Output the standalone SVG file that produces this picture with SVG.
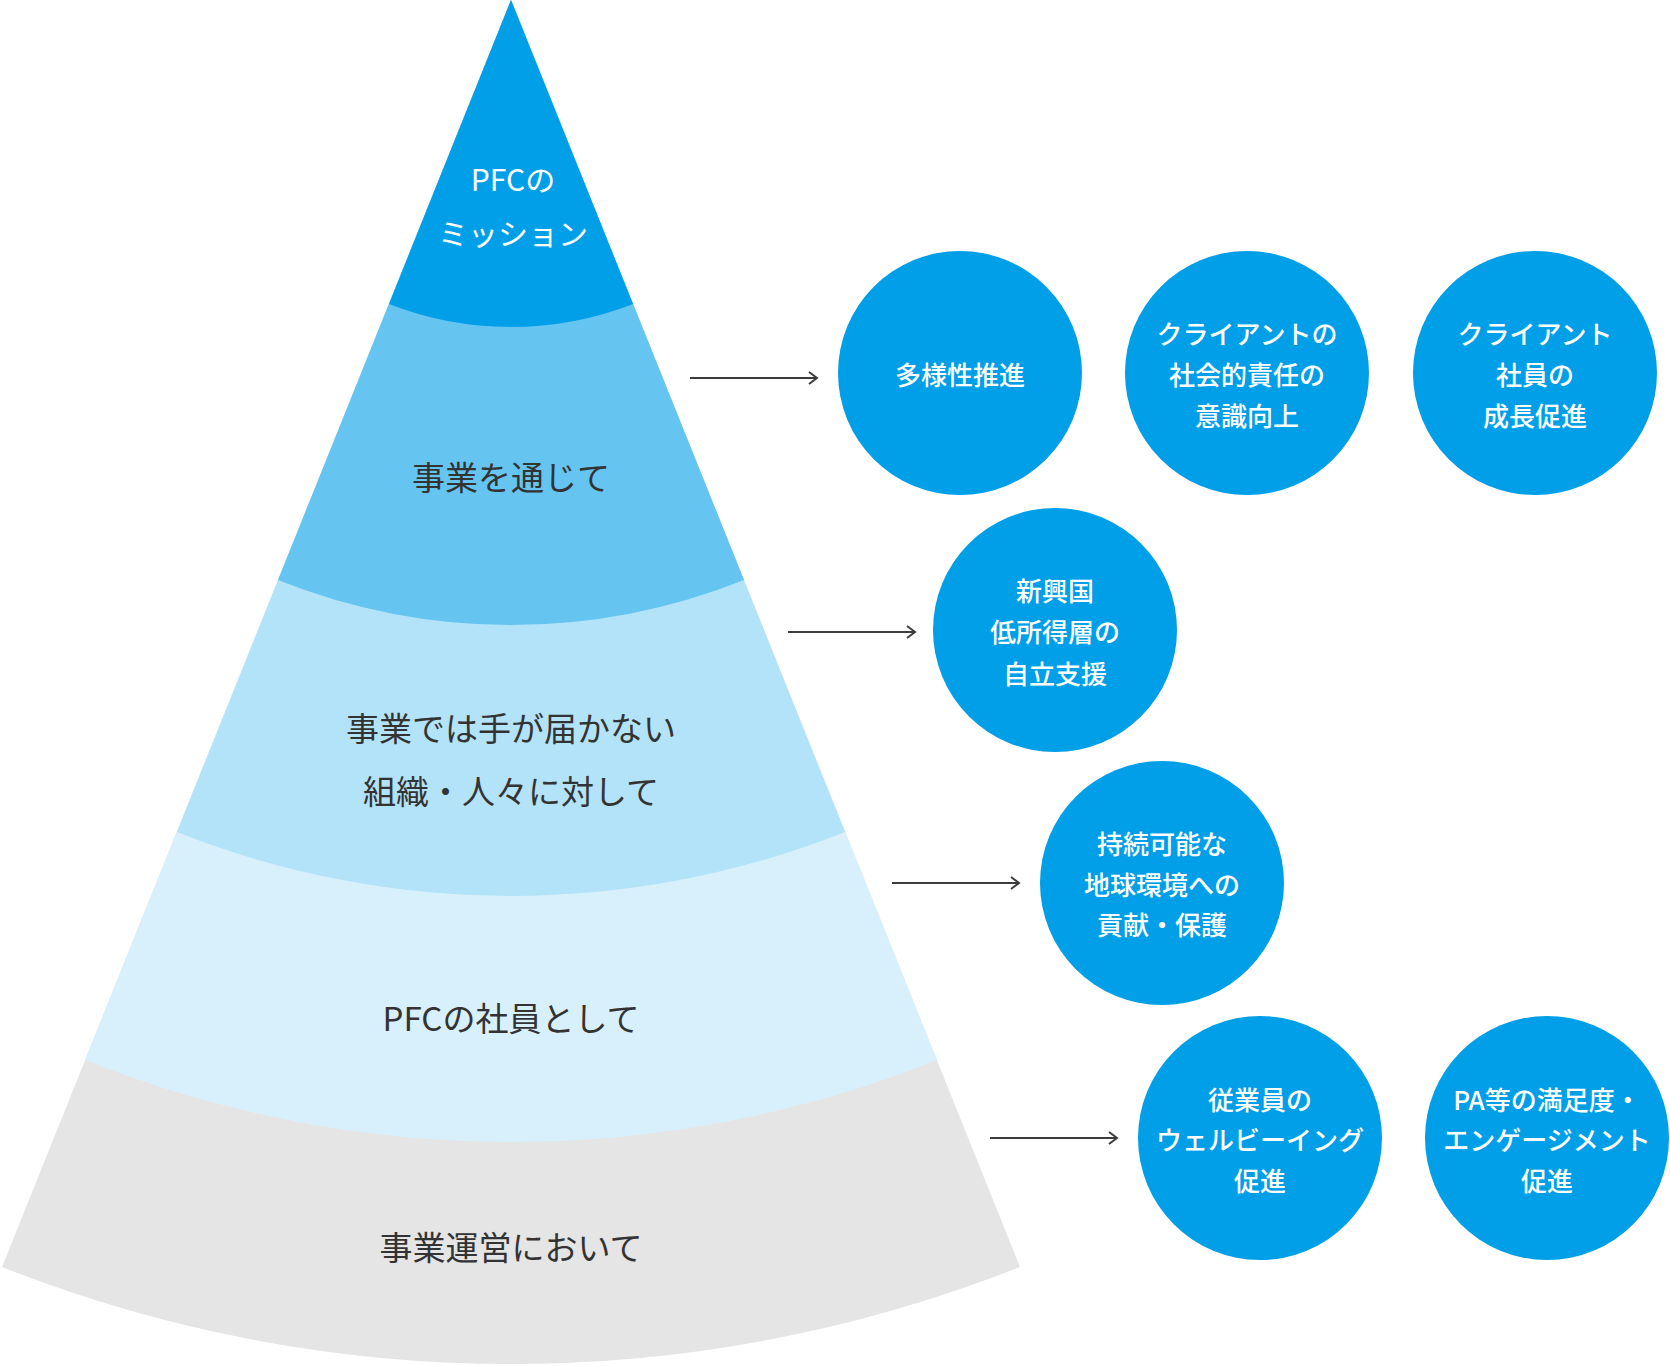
<svg xmlns="http://www.w3.org/2000/svg" width="1670" height="1366" viewBox="0 0 1670 1366">
<style>
.lbl{font-family:"Noto Sans CJK JP","Noto Sans",sans-serif;font-size:33px;fill:#333333;text-anchor:middle;dominant-baseline:central}
.top{font-family:"Noto Sans CJK JP","Noto Sans",sans-serif;font-size:30px;fill:#ffffff;text-anchor:middle;dominant-baseline:central}
.ct{font-family:"Noto Sans CJK JP","Noto Sans",sans-serif;font-size:26px;font-weight:500;fill:#ffffff;text-anchor:middle;dominant-baseline:central}
.circ{fill:#009FE8}
.conn{stroke:#3c3c3c;stroke-width:2;fill:none}
</style>
<defs>
<marker id="arr" markerWidth="12" markerHeight="14" refX="10" refY="7" orient="auto" markerUnits="userSpaceOnUse">
<path d="M2 1 L10 7 L2 13" fill="none" stroke="#3c3c3c" stroke-width="2"/>
</marker>
</defs>
<rect width="1670" height="1366" fill="#ffffff"/>
<g id="band5">
<path d="M511 0 L1020 1267 A1384 1384 0 0 1 2 1267 Z" fill="#E5E5E5"/>
<text class="lbl" x="511" y="1246">事業運営において</text>
</g>
<g id="band4">
<path d="M511 0 L937 1060 A1148 1148 0 0 1 85 1060 Z" fill="#D8F0FC"/>
<text class="lbl" x="511" y="1017">PFCの社員として</text>
</g>
<g id="band3">
<path d="M511 0 L845 832 A904 904 0 0 1 177 832 Z" fill="#B3E3F8"/>
<text class="lbl" x="511" y="727">事業では手が届かない</text>
<text class="lbl" x="511" y="790">組織・人々に対して</text>
</g>
<g id="band2">
<path d="M511 0 L744 580 A626 626 0 0 1 278 580 Z" fill="#66C4F0"/>
<text class="lbl" x="511" y="476">事業を通じて</text>
</g>
<g id="band1">
<path d="M511 0 L633 304 A335 335 0 0 1 389 304 Z" fill="#009FE8"/>
<text class="top" x="513" y="178">PFCの</text>
<text class="top" x="513" y="232">ミッション</text>
</g>
<g id="connectors">
<line class="conn" x1="690" y1="378" x2="817" y2="378" marker-end="url(#arr)"/>
<line class="conn" x1="788" y1="632" x2="915" y2="632" marker-end="url(#arr)"/>
<line class="conn" x1="892" y1="883" x2="1019" y2="883" marker-end="url(#arr)"/>
<line class="conn" x1="990" y1="1138" x2="1117" y2="1138" marker-end="url(#arr)"/>
</g>
<g id="c1">
<circle class="circ" cx="960" cy="373" r="122"/>
<text class="ct" x="960" y="373">多様性推進</text>
</g>
<g id="c2">
<circle class="circ" cx="1247" cy="373" r="122"/>
<text class="ct" x="1247" y="332">クライアントの</text>
<text class="ct" x="1247" y="373">社会的責任の</text>
<text class="ct" x="1247" y="414">意識向上</text>
</g>
<g id="c3">
<circle class="circ" cx="1535" cy="373" r="122"/>
<text class="ct" x="1535" y="332">クライアント</text>
<text class="ct" x="1535" y="373">社員の</text>
<text class="ct" x="1535" y="414">成長促進</text>
</g>
<g id="c4">
<circle class="circ" cx="1055" cy="630" r="122"/>
<text class="ct" x="1055" y="589">新興国</text>
<text class="ct" x="1055" y="630">低所得層の</text>
<text class="ct" x="1055" y="672">自立支援</text>
</g>
<g id="c5">
<circle class="circ" cx="1162" cy="883" r="122"/>
<text class="ct" x="1162" y="842">持続可能な</text>
<text class="ct" x="1162" y="883">地球環境への</text>
<text class="ct" x="1162" y="923">貢献・保護</text>
</g>
<g id="c6">
<circle class="circ" cx="1260" cy="1138" r="122"/>
<text class="ct" x="1260" y="1098">従業員の</text>
<text class="ct" x="1260" y="1138">ウェルビーイング</text>
<text class="ct" x="1260" y="1179">促進</text>
</g>
<g id="c7">
<circle class="circ" cx="1547" cy="1138" r="122"/>
<text class="ct" x="1547" y="1098">PA等の満足度・</text>
<text class="ct" x="1547" y="1138">エンゲージメント</text>
<text class="ct" x="1547" y="1179">促進</text>
</g>
</svg>
